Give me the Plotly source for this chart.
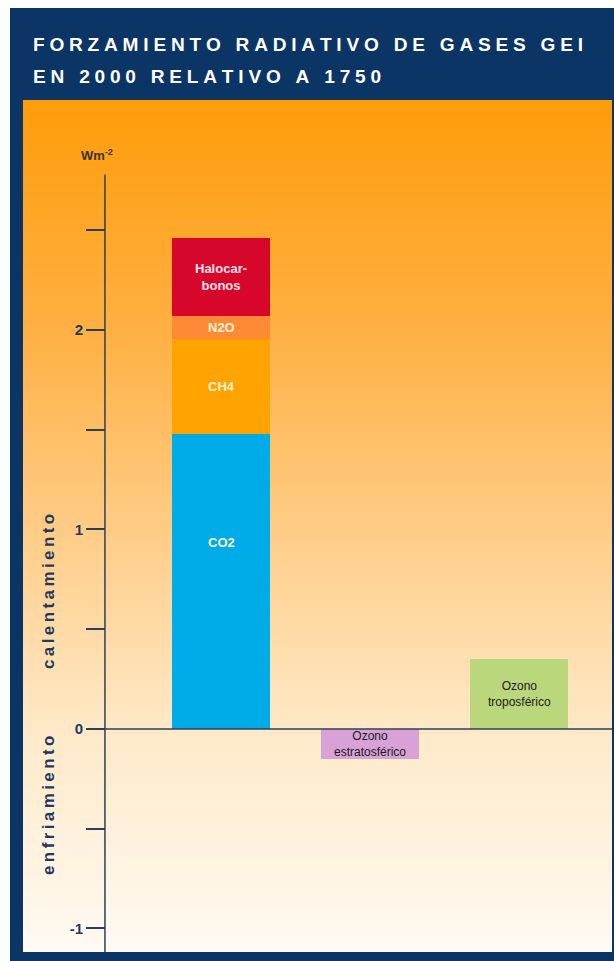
import plotly.graph_objects as go
import numpy as np

# ---------------- data ----------------
categories = ["Gases GEI", "Ozono estratosférico", "Ozono troposférico"]
ghg_names = ["CO2", "CH4", "N2O", "Halocarbonos"]
ghg_labels = ["CO2", "CH4", "N2O", "Halocar-<br>bonos"]
ghg_values = [1.48, 0.475, 0.115, 0.39]
ozone_names = ["Ozono estratosférico", "Ozono troposférico"]
ozone_labels = ["Ozono<br>estratosférico", "Ozono<br>troposférico"]
ozone_values = [-0.15, 0.35]
major_ticks = [-1, 0, 1, 2]
major_text = ["-1", "0", "1", "2"]
minor_ticks = [-0.5, 0.5, 1.5, 2.5]

# ---------------- style ----------------
W, H = 614, 961
ML, MR, MT, MB = 23, 2, 100, 9
NAVY = "#0a3565"
AXIS = "#2c3f58"
ghg_colors = ["#00ace8", "#ffa300", "#ff8a35", "#d7072b"]
ghg_font = ["#fff2d6", "#fff2d6", "#fff2d6", "#ffe3ea"]
ozone_colors = ["#d9a2d6", "#bbd77b"]

X_RANGE = [-1.329, 2.624]
Y_RANGE = [-1.118, 3.153]
BAR_W = 0.658
AXIS_X = -0.779
AXIS_TOP = 2.78

fig = go.Figure()

# background gradient
grad_y = np.linspace(Y_RANGE[0] - 0.05, Y_RANGE[1] + 0.05, 80)
fig.add_trace(go.Heatmap(
    x=[-5, 5], y=grad_y, z=[[v, v] for v in grad_y],
    zsmooth="best", showscale=False, hoverinfo="skip",
    zmin=Y_RANGE[0], zmax=Y_RANGE[1],
    colorscale=[[0.0, "#fffaf3"], [0.26, "#ffe9c8"], [0.49, "#ffcd88"],
                [0.73, "#ffb043"], [1.0, "#ff9c0a"]],
))

xpos = list(range(len(categories)))
for name, v, c in zip(ghg_names, ghg_values, ghg_colors):
    fig.add_trace(go.Bar(x=[xpos[0]], y=[v], name=name, marker_color=c,
                         marker_line_width=0, width=BAR_W, showlegend=False))
for i, (name, v, c) in enumerate(zip(ozone_names, ozone_values, ozone_colors)):
    fig.add_trace(go.Bar(x=[xpos[i + 1]], y=[v], name=name, marker_color=c,
                         marker_line_width=0, width=BAR_W, showlegend=False))

ann = []
base = 0
for i, (lab, v, fc) in enumerate(zip(ghg_labels, ghg_values, ghg_font)):
    frac = 0.63 if i == 0 else 0.5
    ann.append(dict(x=xpos[0], y=base + v * frac, text="<b>" + lab + "</b>",
                    showarrow=False, xanchor="center", yanchor="middle",
                    font=dict(size=13, color=fc, family="Liberation Sans"),
                    xref="x", yref="y"))
    base += v
for i, (lab, v) in enumerate(zip(ozone_labels, ozone_values)):
    ann.append(dict(x=xpos[i + 1], y=v / 2, text=lab, showarrow=False,
                    xanchor="center", yanchor="middle",
                    font=dict(size=12, color="#1a1a1a", family="Liberation Sans"),
                    xref="x", yref="y"))

def spaced(s):
    return "\u2005".join(list(s))

def px_x(p):
    return (p - ML) / (W - ML - MR)

def px_y(p):
    return (H - MB - p) / (H - MT - MB)

for txt, yp in [("FORZAMIENTO RADIATIVO DE GASES GEI", 45), ("EN 2000 RELATIVO A 1750", 76)]:
    ann.append(dict(x=px_x(31), y=px_y(yp), xref="paper", yref="paper",
                    text="<b>" + spaced(txt) + "</b>",
                    showarrow=False, xanchor="left", yanchor="middle",
                    font=dict(size=19.1, color="white", family="Liberation Sans")))
ann.append(dict(x=px_x(97), y=px_y(155), xref="paper", yref="paper",
                text="<b>Wm<sup>-2</sup></b>", showarrow=False,
                xanchor="center", yanchor="middle",
                font=dict(size=13, color="#3a3528", family="Liberation Sans")))
for txt, yp in [("calentamiento", 592), ("enfriamiento", 806)]:
    ann.append(dict(x=px_x(48), y=px_y(yp), xref="paper", yref="paper",
                    text="<b>" + "\u2009".join(txt) + "</b>", textangle=-90,
                    showarrow=False, xanchor="center", yanchor="middle",
                    font=dict(size=17, color="#1f3a5f", family="Liberation Sans")))

shapes = [
    dict(type="rect", xref="paper", yref="paper", layer="below",
         x0=px_x(10), x1=px_x(615), y0=px_y(962), y1=px_y(8),
         fillcolor=NAVY, line_width=0),
    dict(type="line", xref="x", yref="y", x0=AXIS_X, x1=AXIS_X,
         y0=Y_RANGE[0], y1=AXIS_TOP, line=dict(color=AXIS, width=1.5)),
    dict(type="line", xref="x", yref="y", x0=AXIS_X, x1=X_RANGE[1],
         y0=0, y1=0, line=dict(color=AXIS, width=1.5)),
]

fig.update_layout(
    width=W, height=H, margin=dict(l=ML, r=MR, t=MT, b=MB),
    paper_bgcolor="white", plot_bgcolor="rgba(0,0,0,0)",
    barmode="relative", bargap=0,
    xaxis=dict(range=X_RANGE, visible=False, fixedrange=True),
    yaxis=dict(range=Y_RANGE, anchor="free", position=px_x(105),
               tickvals=major_ticks, ticktext=major_text, ticks="outside",
               ticklen=19, tickwidth=1.5, tickcolor=AXIS, showline=False,
               showgrid=False, zeroline=False,
               minor=dict(tickvals=minor_ticks, ticks="outside", ticklen=19,
                          tickwidth=1.5, tickcolor=AXIS, showgrid=False),
               tickfont=dict(size=15, color="#1f3a5f", family="Liberation Sans", weight="bold")),
    annotations=ann, shapes=shapes, showlegend=False,
)

fig.write_html("out.html")
